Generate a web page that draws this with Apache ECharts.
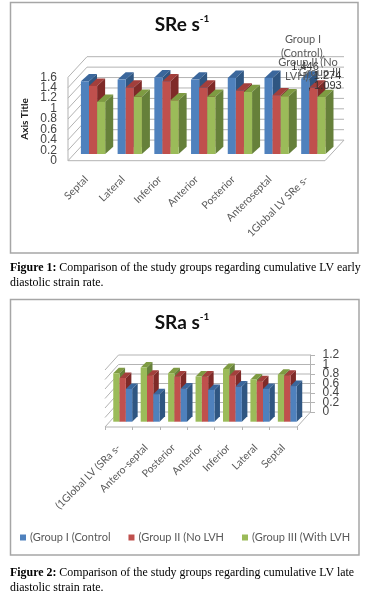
<!DOCTYPE html>
<html>
<head>
<meta charset="utf-8">
<style>html,body{margin:0;padding:0;background:#fff}#c{width:370px;height:600px}</style>
<script src="https://cdn.jsdelivr.net/npm/echarts@6/dist/echarts.min.js"></script>
</head>
<body>
<div id="c"></div>
<script>
// Figure 1 data
const categoriesE = ['Septal','Lateral','Inferior','Anterior','Posterior','Anteroseptal','1Global LV SRe s-'];
const groupIE   = [1.395,1.427,1.47,1.427,1.46,1.46,1.446];
const groupIIE  = [1.306,1.274,1.395,1.274,1.217,1.127,1.274];
const groupIIIE = [1.0,1.096,1.03,1.096,1.19,1.108,1.093];
const ticksE = [0,0.2,0.4,0.6,0.8,1,1.2,1.4,1.6];
// Figure 2 data
const categoriesA = ['(1Global LV (SRa s-','Antero-septal','Posterior','Anterior','Inferior','Lateral','Septal'];
const groupIA   = [0.69,0.58,0.70,0.67,0.74,0.69,0.75];
const groupIIA  = [0.92,0.97,0.95,0.95,0.97,0.85,0.97];
const groupIIIA = [1.02,1.14,1.02,0.95,1.11,0.89,0.99];
const ticksA = [0,0.2,0.4,0.6,0.8,1,1.2];
const groupNames = ['(Group I (Control','(Group II (No LVH','(Group III (With LVH'];

const BLUE = ['#4F81BD','#3B679C','#2F5682'];
const RED  = ['#C0504D','#A33F3C','#7F2A28'];
const GREEN= ['#9BBB59','#7E9B42','#66803A'];
const SANS = 'Lato, "Open Sans", sans-serif';
const AXISF = '"Liberation Sans", Arial, sans-serif';
const SERIF = '"Liberation Serif", serif';
const GRID = '#B3B3B3';

function barSeries(name, values, colors, k, g, cfg){
  return {
    type:'custom', name, xAxisIndex:g, yAxisIndex:g, clip:false, silent:true, z:3,
    itemStyle:{color:colors[0]},
    data: values.map((v,i)=>[i,v]), encode:{x:0,y:1},
    renderItem(params, api){
      const p = api.coord([api.value(0), api.value(1)]);
      const b = api.coord([api.value(0), 0]);
      const x = p[0] - 1.5*cfg.w + k*cfg.w + cfg.dx;
      const top = p[1] + cfg.dy, base = b[1] + cfg.dy, w = cfg.w;
      const poly = (pts, fill)=>({type:'polygon', shape:{points:pts}, style:{fill}});
      return {type:'group', children:[
        poly([[x,top],[x+w,top],[x+w+cfg.ddx,top-cfg.ddy],[x+cfg.ddx,top-cfg.ddy]], colors[1]),
        poly([[x+w,top],[x+w+cfg.ddx,top-cfg.ddy],[x+w+cfg.ddx,base-cfg.ddy],[x+w,base]], colors[2]),
        poly([[x,top],[x+w,top],[x+w,base],[x,base]], colors[0])
      ]};
    }
  };
}
function wallSeries(ticks, n, g, cfg){
  return {
    type:'custom', name:'wall'+g, xAxisIndex:g, yAxisIndex:g, clip:false, silent:true, z:1,
    data: ticks.map(t=>[0,t]), encode:{x:0,y:1},
    renderItem(params, api){
      const band = api.size([1,0])[0];
      const v = api.value(1);
      const p = api.coord([0,v]);
      const l = p[0]-band/2, r = api.coord([n-1,v])[0]+band/2, y = p[1];
      const line = pts => ({type:'polyline', shape:{points:pts}, style:{stroke:GRID, lineWidth:1, fill:null}});
      const ch = [line([[l,y],[l+cfg.bx,y-cfg.by],[r+cfg.bx,y-cfg.by]])];
      if (v === 0) {
        const top = api.coord([0,ticks[ticks.length-1]])[1];
        ch.push(line([[l,y],[r,y],[r+cfg.bx,y-cfg.by]]));
        if (cfg.frontEdge) ch.push(line([[l,y],[l,top]]));
      }
      // tick label: front-left plane in Figure 1, back-right plane in Figure 2
      const lx = cfg.labelSide === 'left' ? l - cfg.labelGap : r + cfg.bx + cfg.labelGap;
      const ly = cfg.labelSide === 'left' ? y : y - cfg.by;
      ch.push({type:'text', style:{text:String(v), x:lx, y:ly, fontFamily:AXISF, fontSize:12, fill:'#444',
        align:cfg.labelSide === 'left' ? 'right' : 'left', verticalAlign:'middle'}});
      return {type:'group', children:ch};
    }
  };
}
const cfgE = {w:8.1, dx:6.7, dy:-6.7, ddx:8, ddy:7.3, bx:19, by:20.6, labelSide:'left', labelGap:11, frontEdge:true};
const cfgA = {w:6.3, dx:4, dy:-5.3, ddx:5.5, ddy:5.5, bx:13.5, by:15, labelSide:'right', labelGap:12, frontEdge:false};

function txt(text,x,y,font,size,color,weight,align){
  return {type:'text', x, y, z:20, silent:true, style:{text, fontFamily:font, fontSize:size, fill:color, fontWeight:weight||'normal', align:align||'center', verticalAlign:'middle'}};
}
function caption(bold, rest, y){
  return {type:'text', x:10, y, z:20, silent:true, style:{
    text:'{b|'+bold+'}{r|'+rest+'}', verticalAlign:'middle', align:'left',
    rich:{b:{fontFamily:SERIF,fontSize:11.9,fontWeight:'bold',fill:'#000'}, r:{fontFamily:SERIF,fontSize:11.9,fill:'#000'}}
  }};
}
function frame(x,y,w,h){
  return {type:'rect', z:0, silent:true, shape:{x,y,width:w,height:h}, style:{fill:'#fff',stroke:'#A6A6A6',lineWidth:1.5}};
}
function title(a,y){
  return {type:'text', x:182, y, z:20, silent:true, style:{
    text:'{s|'+a+'}{u|-1}', align:'center', verticalAlign:'middle',
    rich:{s:{fontFamily:SANS,fontSize:19,fontWeight:'bold',fill:'#111',lineHeight:22},
          u:{fontFamily:SANS,fontSize:10,fontWeight:'bold',fill:'#111',verticalAlign:'top',lineHeight:14}}
  }};
}
const n = categoriesE.length;
const chart = echarts.init(document.getElementById('c'), null, {renderer:'canvas', width:370, height:600});
const last = n-1;
chart.setOption({
  animation:false,
  backgroundColor:'#fff',
  graphic:[
    frame(10.5,2.5,347.5,250.5),
    frame(10.5,299.5,348.5,255.5),
    title('SRe s',25),
    title('SRa s',323),
    txt('Group I',303,39,SANS,11,'#595959'),
    txt('(Control),',303,53,SANS,11,'#595959'),
    txt(String(groupIE[last]),305,67,AXISF,11,'#333'),
    txt('Group II (No',308,62,SANS,11,'#595959'),
    txt('Group III',320,72,SANS,11,'#595959'),
    {type:'text', x:285, y:76, z:20, silent:true, style:{text:'{a|LVH), }{n|'+groupIIE[last]+'}', verticalAlign:'middle', align:'left',
      rich:{a:{fontFamily:SANS,fontSize:11,fill:'#595959'},n:{fontFamily:AXISF,fontSize:11,fill:'#333'}}}},
    txt(', '+groupIIIE[last],308,86,AXISF,11,'#333','normal','left'),
    caption('Figure 1: ','Comparison of the study groups regarding cumulative LV early',268),
    txt('diastolic strain rate.',10,283,SERIF,11.9,'#000','normal','left'),
    caption('Figure 2: ','Comparison of the study groups regarding cumulative LV late',573),
    txt('diastolic strain rate.',10,588,SERIF,11.9,'#000','normal','left')
  ],
  legend:{
    data:[
      {name:groupNames[0],itemStyle:{color:BLUE[0]}},
      {name:groupNames[1],itemStyle:{color:RED[0]}},
      {name:groupNames[2],itemStyle:{color:GREEN[0]}}
    ],
    left:20, top:532, padding:0, itemWidth:6, itemHeight:6, itemGap:18, icon:'rect',
    textStyle:{fontFamily:SANS,fontSize:11,color:'#595959',padding:[0,0,0,-1]}
  },
  grid:[
    {left:68, right:45, top:77.3, height:83.4},
    {left:105, right:73, top:370, height:57},
    {left:118.5, right:60, top:355, height:57}
  ],
  xAxis:[
    {gridIndex:0,type:'category',data:categoriesE,axisLine:{show:false},axisTick:{show:false},
      axisLabel:{interval:0,rotate:45,margin:17,fontFamily:SANS,fontSize:10.5,color:'#595959'}},
    {gridIndex:1,type:'category',data:categoriesA,axisLine:{show:false},axisTick:{show:true,alignWithLabel:false,length:3,lineStyle:{color:GRID}},
      axisLabel:{interval:0,rotate:45,margin:19,fontFamily:SANS,fontSize:10.5,color:'#595959'}},
    {gridIndex:2,type:'category',data:categoriesA,show:false}
  ],
  yAxis:[
    {gridIndex:0,type:'value',min:0,max:1.6,interval:0.2,splitLine:{show:false},axisLine:{show:false},axisTick:{show:false},
      name:'Axis Title',nameLocation:'middle',nameGap:38,nameRotate:90,nameTextStyle:{fontFamily:SANS,fontSize:10,fontWeight:'bold',color:'#222'},
      axisLabel:{show:false}},
    {gridIndex:1,type:'value',min:0,max:1.2,interval:0.2,show:false},
    {gridIndex:2,type:'value',position:'right',min:0,max:1.2,interval:0.2,splitLine:{show:false},
      axisLine:{show:true,lineStyle:{color:GRID}},axisTick:{show:true,length:5,lineStyle:{color:GRID}},
      axisLabel:{show:false}}
  ],
  series:[
    wallSeries(ticksE,n,0,cfgE),
    barSeries(groupNames[0]+' E',groupIE,BLUE,0,0,cfgE),
    barSeries(groupNames[1]+' E',groupIIE,RED,1,0,cfgE),
    barSeries(groupNames[2]+' E',groupIIIE,GREEN,2,0,cfgE),
    wallSeries(ticksA,n,1,cfgA),
    barSeries(groupNames[2],groupIIIA,GREEN,0,1,cfgA),
    barSeries(groupNames[1],groupIIA,RED,1,1,cfgA),
    barSeries(groupNames[0],groupIA,BLUE,2,1,cfgA)
  ]
});
</script>
</body>
</html>
